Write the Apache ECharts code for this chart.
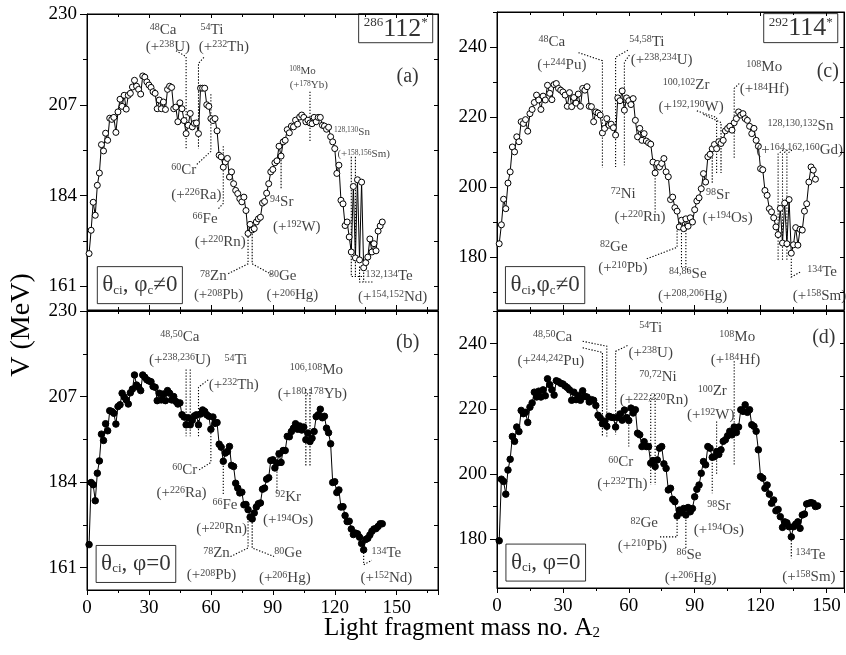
<!DOCTYPE html>
<html><head><meta charset="utf-8">
<script src="https://cdn.jsdelivr.net/npm/echarts@6/dist/echarts.min.js"></script>
<style>html,body{margin:0;padding:0;background:#fff}#chart{width:846px;height:655px}</style>
</head><body><div id="chart"></div>
<script>
const FONT = 'Liberation Serif';

// ---- data: V (MeV) for light fragment mass A2 = 1, 2, 3, ...
const V_112_CI_PHIC = [169.3,175.2,182.3,179,186.6,189.7,196.9,195.3,199.8,198,203.6,203.3,203.8,200,205.2,208.4,206.6,209.4,205.9,209.4,209.9,211.5,213.2,211.7,210.9,209.7,214.3,214,212.8,212,211.4,210.3,209.9,206,208.2,206,207.7,205.8,210.9,211.7,211.4,206,206.4,202.7,207.5,206,203,199.7,201.8,204.8,201.4,202.3,202.4,199.7,211.2,211.2,211.2,207,206.6,203.5,203,203.5,200.4,194.2,193.8,191.2,192.5,193.4,188.7,190,187,185.3,184.5,183.2,182.4,183.6,180.2,174.4,176.7,175.3,175.6,177.3,178.1,178.5,182.1,182.5,184.6,187,190,190.6,192.3,192.8,196.5,194,197.6,198,200.7,199.9,201.6,201.4,203.1,202.1,203.9,204.4,203.8,202.7,203.1,202.4,202.2,203.8,202.7,203.8,203.8,201.8,201.6,200.8,201.3,198.9,197.6,195.9,189.6,191.7,182.8,181.9,176.4,177.3,173.5,169.7,186.3,168.2,188,167.7,187.4,165.7,167,168.4,173,169.7,171.8,170,175,176.3,177.3];
const V_112_CI_PHI0 = [167.2,183.9,183.3,179,186.4,189.7,196.9,195.2,199.7,197.8,203.2,203,202.5,199.6,204.3,204.8,207.9,206.9,206.1,205,208,209,212.8,210.1,209.5,208.6,212.8,212.2,211.5,211.2,211,209.7,209.5,205.9,207.9,206.1,207.7,205.9,208.6,207.9,206.1,207,205.7,205,205.3,202.1,201.5,199.4,201.3,199.4,200.6,201.8,202.1,199.4,202.3,203.4,203,202.1,201.7,198.2,201.5,199.8,200,194.2,193.4,189.6,191.8,192.2,193.6,188.5,188.2,183.7,182.4,181.1,181.3,177.9,178,176.6,174.6,174.1,175.7,177.3,178.2,178.4,182.1,182.4,184.8,185.2,189.8,190,187.8,189.1,191.6,189.3,192.5,192.5,196.3,196.2,197.6,198.5,199.7,198.2,199.1,198,198.8,195.4,197.2,194.9,195.8,197.6,201.6,202.1,203.6,201.3,201.7,198.5,197.3,194.3,183.9,184.1,181.2,181.9,177.3,177.4,175,173.4,173.5,171.4,169.9,170.3,170.1,169.2,167.5,165.8,168.6,168.9,169.8,170.8,171.4,171.5,172.1,172.8,172.8];
const V_114_CI_PHIC = [183.9,189.3,196.6,193.9,201.2,204.4,211.5,210.1,214.4,213,218.7,218.2,219.3,216,221,222.2,224.2,226.3,224.9,222.2,226,224.9,229.1,226.8,225,229.3,229.6,228.2,227.7,227.2,226.3,223.1,227,223,225.6,224,226.6,223.1,228.2,227.7,228.7,223.1,223,218.7,221.5,221.2,220.6,215.5,216.8,219.6,217.7,218,217,214.9,225.5,224.7,227.5,222,225.5,224.7,223.6,225.3,219.1,214.4,216.8,213.4,215.3,213.2,212.7,212.3,207.2,204.1,206.8,205.8,206.8,208.2,204.4,203,196.5,197.2,194.2,193.2,188.7,190.6,188.2,191,188.9,191.3,190.1,193.6,196.1,197,199.6,203.9,201.5,208.7,209.4,211,212.2,211,213,212.5,213.4,216.1,216.8,217.4,216.3,218.4,219.6,221.5,220.6,221,219.6,219.1,217.4,215.3,216.8,213.4,211.7,205.3,205,199.1,197.7,193.9,193,191.3,188.7,186.5,194,184.1,195.5,183.9,196.5,181.2,183.6,188.5,183.5,188,187.8,193.2,195.3,201.5,205.8,204.9,202.3];
const V_114_CI_PHI0 = [179.5,198.4,197.7,193.8,201.2,204.5,211.5,210,214.4,213,219.5,218.5,218.9,215.8,220.5,221.8,225.1,223.6,225.4,223.6,225.8,224,229.2,227.4,225.8,224.2,228.6,228.3,227.8,227.6,227,226.5,225.8,222.6,225.1,222.8,224.1,222.6,225.5,223.8,223.6,222.1,222.8,222.6,221,218,217.2,215.4,216.2,214.6,217.7,217.4,217.3,214.4,217.3,218.4,216.5,219.6,217.3,216.4,220.2,218.7,219.7,212.5,212,208.4,209.9,208.4,208.4,203.3,204.1,202.3,204.3,207.9,208.4,203.1,201.7,195.1,195.6,192.2,191.5,187.1,188.9,188.1,189.4,187.4,189.7,188.4,189.4,193,195.3,196.6,200.2,203.8,202.8,208.4,207.9,205.1,205.3,206.9,206,207.4,210,210.5,211.7,213.1,212,214.4,212.7,214.4,219.7,219.2,221.2,218.9,219.7,215.1,214.6,213.1,207.4,199.2,198.7,195.6,196.6,193.8,191,192,188.7,189.1,186.9,183.6,185.3,185,183.8,180.7,183.8,184.6,185.3,183.3,187.4,187.7,190.8,191,191.2,191,190,190.2];

// ---- tick labels
const X_TICKS = [0, 30, 60, 90, 120, 150];
const Y_TICKS_112 = [161, 184, 207, 230];
const Y_MINOR_112 = [172.5, 195.5, 218.5];
const Y_TICKS_114 = [180, 200, 220, 240];
const Y_MINOR_114 = [170, 190, 210, 230, 250];

// ---- annotation texts: [A2, V, text]
const ANN_A = [
  [36.8,225.9,'{s|48}{t|Ca}'],[39.2,221.6,'{t|(+}{s|238}{t|U)}'],
  [60.5,225.9,'{s|54}{t|Ti}'],[66.3,221.6,'{t|(+}{s|232}{t|Th)}'],
  [104.4,215.6,'{ss|108}{ts|Mo}'],[107.4,212,'{ts|(+}{ss|178}{ts|Yb)}'],
  [128.3,200.1,'{ss|128,130}{ts|Sn}'],[134,194.5,'{ts|(+}{ss|158,156}{ts|Sm)}'],
  [146.3,163.5,'{s|132,134}{t|Te}'],[148,158.4,'{t|(+}{s|154,152}{t|Nd)}'],
  [46.9,190.4,'{s|60}{t|Cr}'],[53,184.1,'{t|(+}{s|226}{t|Ra)}'],
  [57.2,178.1,'{s|66}{t|Fe}'],[64.5,172.2,'{t|(+}{s|220}{t|Rn)}'],
  [61.2,163.5,'{s|78}{t|Zn}'],[63.7,158.7,'{t|(+}{s|208}{t|Pb)}'],
  [94.8,163.5,'{s|80}{t|Ge}'],[99.5,158.7,'{t|(+}{s|206}{t|Hg)}'],
  [94.3,182.4,'{s|94}{t|Sr}'],[101.6,176,'{t|(+}{s|192}{t|W)}']
];
const ANN_B = [
  [45,223.1,'{s|48,50}{t|Ca}'],[45,216.8,'{t|(+}{s|238,236}{t|U)}'],
  [72.1,216.7,'{s|54}{t|Ti}'],[71.1,210.1,'{t|(+}{s|232}{t|Th)}'],
  [111.1,214.2,'{s|106,108}{t|Mo}'],[109.2,207.7,'{t|(+}{s|180,178}{t|Yb)}'],
  [47.4,187.3,'{s|60}{t|Cr}'],[45.8,181,'{t|(+}{s|226}{t|Ra)}'],
  [66.8,177.9,'{s|66}{t|Fe}'],[65.2,171.4,'{t|(+}{s|220}{t|Rn)}'],
  [62.7,164.8,'{s|78}{t|Zn}'],[60.3,158.9,'{t|(+}{s|208}{t|Pb)}'],
  [97.4,164.8,'{s|80}{t|Ge}'],[95.8,158.2,'{t|(+}{s|206}{t|Hg)}'],
  [97.4,180,'{s|92}{t|Kr}'],[97.4,173.7,'{t|(+}{s|194}{t|Os)}'],
  [145,164.8,'{s|134}{t|Te}'],[145,158.2,'{t|(+}{s|152}{t|Nd)}']
];
const ANN_C = [
  [25,241.5,'{s|48}{t|Ca}'],[29.5,235,'{t|(+}{s|244}{t|Pu)}'],
  [68.2,241.5,'{s|54,58}{t|Ti}'],[75,236.3,'{t|(+}{s|238,234}{t|U)}'],
  [86.1,229.1,'{s|100,102}{t|Zr}'],[88.4,222.8,'{t|(+}{s|192,190}{t|W)}'],
  [100.5,197.7,'{s|98}{t|Sr}'],[105,191.3,'{t|(+}{s|194}{t|Os)}'],
  [121.7,234.4,'{s|108}{t|Mo}'],[121.7,227.9,'{t|(+}{s|184}{t|Hf)}'],
  [138.2,217.4,'{s|128,130,132}{t|Sn}'],[137.8,210.6,'{t|(+}{s|164,162,160}{t|Gd)}'],
  [86.9,175.3,'{s|84,86}{t|Se}'],[89.1,169.1,'{t|(+}{s|208,206}{t|Hg)}'],
  [53.2,183,'{s|82}{t|Ge}'],[57.3,177,'{t|(+}{s|210}{t|Pb)}'],
  [57.5,198.2,'{s|72}{t|Ni}'],[65.1,191.5,'{t|(+}{s|220}{t|Rn)}'],
  [148,175.8,'{s|134}{t|Te}'],[146.8,168.9,'{t|(+}{s|158}{t|Sm)}']
];
const ANN_D = [
  [25.3,242.1,'{s|48,50}{t|Ca}'],[24.5,234.6,'{t|(+}{s|244,242}{t|Pu)}'],
  [70,244.8,'{s|54}{t|Ti}'],[70,237.1,'{t|(+}{s|238}{t|U)}'],
  [73.3,229.8,'{s|70,72}{t|Ni}'],[71.5,222.8,'{t|(+}{s|222,220}{t|Rn)}'],
  [56.3,203.5,'{s|60}{t|Cr}'],[57.1,196.9,'{t|(+}{s|232}{t|Th)}'],
  [109.4,242.1,'{s|108}{t|Mo}'],[108.6,234.9,'{t|(+}{s|184}{t|Hf)}'],
  [98,225.3,'{s|100}{t|Zr}'],[97.3,218.2,'{t|(+}{s|192}{t|W)}'],
  [101,190,'{s|98}{t|Sr}'],[101,182.8,'{t|(+}{s|194}{t|Os)}'],
  [67,184.8,'{s|82}{t|Ge}'],[66.2,177.8,'{t|(+}{s|210}{t|Pb)}'],
  [87.4,175.1,'{s|86}{t|Se}'],[88.2,168.2,'{t|(+}{s|206}{t|Hg)}'],
  [142.7,175.1,'{s|134}{t|Te}'],[142,168.4,'{t|(+}{s|158}{t|Sm)}']
];
// boxed / panel tags: [A2, V, text, kind]
const TAG_A = [[149.5,226.4,'{bs|286}{b|112}{bs|*}','box'],[25.6,161.3,'{g|θ}{gs|ci}{g|, φ}{gs|c}{g|≠0}','box2'],[155.3,214,'{p|(a)}','plain']];
const TAG_B = [[23.7,162,'{g|θ}{gs|ci}{g|, φ=0}','box2'],[155.3,221.4,'{p|(b)}','plain']];
const TAG_C = [[138.3,245.4,'{bs|292}{b|114}{bs|*}','box'],[21.9,172.1,'{g|θ}{gs|ci}{g|,φ}{gs|c}{g|≠0}','box2'],[150.6,232.9,'{p|(c)}','plain']];
const TAG_D = [[22.2,172.8,'{g|θ}{gs|ci}{g|, φ=0}','box2'],[148.8,241.8,'{p|(d)}','plain']];

// ---- dotted leader lines (data coordinates)
const LEAD_A = [
  [[43.1,220.7],[48,219.2],[48,195.9]],[[56.6,219],[54,217.5],[54,195.9]],
  [[53.2,191.9],[60,195.2],[60,209.9]],[[63.7,180.7],[66,182],[66,196.9]],
  [[68.4,164.2],[78,166.7],[78,174.3]],[[80,174.3],[80,166.7],[89.4,164]],
  [[108,210.3],[108,197.6]],[[94,193.8],[94,185.8]],
  [[128,193.8],[128,163.5],[134,163.5]],[[130,193.8],[130,163.5]],
  [[132,166],[132,162.1],[139,162.1]],[[134,166],[134,162.1]]
];
const LEAD_B = [
  [[48,214.3],[48,196.3]],[[50,214.3],[50,196.3]],
  [[58.7,211.5],[54,209.5],[54,196.3]],
  [[106,209],[106,188.4]],[[108,209],[108,188.4]],
  [[54.3,187.3],[60,189.3],[60,198.2]],[[66,190],[66,180.6]],
  [[69.5,164],[78,166.3],[78,174.8]],[[80,174.8],[80,166.3],[90.6,164]],
  [[92,192.5],[92,181]],[[134,165],[134,161.8],[138,163]]
];
const LEAD_C = [
  [[37.1,238.4],[48,236.1],[48,205.6]],
  [[59.6,239.1],[54,237.1],[54,205.8]],[[60.3,237.7],[58,235.7],[58,206.3]],
  [[91,221.8],[100,219.9],[100,204.1]],[[94,220.8],[102,218.5],[102,204.1]],
  [[98,209.4],[98,201.2]],[[110.3,229.6],[108,228.2],[108,208.2]],
  [[128,179.3],[128,209.5],[131,211]],[[130,179.3],[130,209.5],[133,211]],[[132,179.3],[132,209.5],[135,211]],
  [[84,188.7],[84,177.2]],[[86,188.7],[86,177.2],[87.5,176]],
  [[68.2,179.6],[82,182.9],[82,187.7]],[[72,206],[72,192.5]],
  [[134,179.6],[134,174.4],[138,175.8]]
];
const LEAD_D = [
  [[39,240.7],[50,239.2],[50,211.5]],[[39,238.7],[48,237.3],[48,211.5]],
  [[59.4,239.4],[54,237.6],[54,212]],
  [[70,224.3],[70,196.6]],[[72,224.3],[72,196.6]],
  [[60,216.1],[60,208.4]],[[108,234.6],[108,202.8]],
  [[100,216.1],[100,199.7]],[[98,205.3],[98,194.1]],
  [[74.2,180.7],[82,180.7],[82,187.1]],[[86,186.9],[86,177.1]],
  [[134,179.7],[134,174.1]]
];

// ---- layout (styles / positions)
const PANELS = [
  {grid:{left:87,top:14,width:351,height:296}, xMax:170, yMin:155, yMax:230, major:Y_TICKS_112, minor:Y_MINOR_112, vals:V_112_CI_PHIC, filled:false, xLabels:false, ann:ANN_A, tags:TAG_A, lead:LEAD_A},
  {grid:{left:87,top:311,width:351,height:279}, xMax:170, yMin:155, yMax:230, major:Y_TICKS_112, minor:Y_MINOR_112, vals:V_112_CI_PHI0, filled:true, xLabels:true, ann:ANN_B, tags:TAG_B, lead:LEAD_B},
  {grid:{left:497,top:12,width:347,height:298}, xMax:158, yMin:165, yMax:250, major:Y_TICKS_114, minor:Y_MINOR_114, vals:V_114_CI_PHIC, filled:false, xLabels:false, ann:ANN_C, tags:TAG_C, lead:LEAD_C},
  {grid:{left:497,top:311,width:347,height:277}, xMax:158, yMin:165, yMax:250, major:Y_TICKS_114, minor:Y_MINOR_114, vals:V_114_CI_PHI0, filled:true, xLabels:true, ann:ANN_D, tags:TAG_D, lead:LEAD_D}
];

const TXT = '#111';
const RICH = {
  t:{fontSize:15, fontFamily:FONT, color:TXT},
  s:{fontSize:10, fontFamily:FONT, color:TXT, verticalAlign:'top'},
  ts:{fontSize:11, fontFamily:FONT, color:TXT},
  ss:{fontSize:7.5, fontFamily:FONT, color:TXT, verticalAlign:'top'},
  b:{fontSize:26, fontFamily:FONT, color:'#000'},
  bs:{fontSize:13, fontFamily:FONT, color:'#000', verticalAlign:'top'},
  g:{fontSize:23, fontFamily:FONT, color:'#000'},
  gs:{fontSize:13, fontFamily:FONT, color:'#000', verticalAlign:'bottom'},
  p:{fontSize:20, fontFamily:FONT, color:'#000'}
};
const BLACK = {color:'#000', width:1};

const grid = [], xAxis = [], yAxis = [], series = [];
PANELS.forEach((p, g) => {
  grid.push(Object.assign({show:true, borderColor:'#000', borderWidth:1, containLabel:false}, p.grid));
  xAxis.push({gridIndex:g, type:'value', min:0, max:p.xMax, interval:30, position:'bottom',
    axisLine:{show:true, onZero:false, lineStyle:BLACK},
    axisTick:{show:true, inside:!p.xLabels, length:5, lineStyle:BLACK},
    minorTick:{show:true, splitNumber:2, length:3, lineStyle:BLACK},
    axisLabel:{show:p.xLabels, customValues:X_TICKS, fontSize:19, fontFamily:FONT, color:'#000', margin:9},
    splitLine:{show:false}, minorSplitLine:{show:false}});
  xAxis.push({gridIndex:g, type:'value', min:0, max:p.xMax, interval:30, position:'top',
    axisLine:{show:true, onZero:false, lineStyle:BLACK},
    axisTick:{show:true, inside:true, length:4, lineStyle:BLACK},
    minorTick:{show:true, splitNumber:2, length:3, lineStyle:BLACK},
    axisLabel:{show:false}, splitLine:{show:false}});
  yAxis.push({gridIndex:g, type:'value', min:p.yMin, max:p.yMax, position:'left',
    axisLine:{show:true, onZero:false, lineStyle:BLACK},
    axisTick:{show:true, inside:false, length:7, customValues:p.major, lineStyle:BLACK},
    axisLabel:{show:true, customValues:p.major, fontSize:19, fontFamily:FONT, color:'#000', margin:10},
    splitLine:{show:false}});
  yAxis.push({gridIndex:g, type:'value', min:p.yMin, max:p.yMax, position:'left',
    axisLine:{show:false},
    axisTick:{show:true, inside:false, length:4, customValues:p.minor, lineStyle:BLACK},
    axisLabel:{show:false}, splitLine:{show:false}});
  yAxis.push({gridIndex:g, type:'value', min:p.yMin, max:p.yMax, position:'right',
    axisLine:{show:true, onZero:false, lineStyle:BLACK},
    axisTick:{show:true, inside:true, length:4, customValues:p.major.concat(p.minor), lineStyle:BLACK},
    axisLabel:{show:false}, splitLine:{show:false}});

  const xi = 2*g, yi = 3*g;
  series.push({type:'lines', coordinateSystem:'cartesian2d', xAxisIndex:xi, yAxisIndex:yi, polyline:true,
    data:p.lead.map(c => ({coords:c})), lineStyle:{color:'#000', width:1.1, type:[1.3,1.7], opacity:1},
    silent:true, z:2, animation:false});
  series.push({type:'line', xAxisIndex:xi, yAxisIndex:yi,
    data:p.vals.map((v, i) => [i + 1, v]),
    symbol:'circle', symbolSize:p.filled ? 6.5 : 6, showSymbol:true,
    lineStyle:{color:'#000', width:1},
    itemStyle:{color:p.filled ? '#000' : '#fff', borderColor:'#000', borderWidth:1},
    silent:true, z:3, animation:false});
  const labelItems = p.ann.map(a => ({value:[a[0], a[1]], label:{formatter:a[2]}}))
    .concat(p.tags.map(a => {
      const lab = {formatter:a[2]};
      if (a[3] === 'box') Object.assign(lab, {borderColor:'#000', borderWidth:1, padding:[2,5,1,5]});
      if (a[3] === 'box2') Object.assign(lab, {borderColor:'#000', borderWidth:1, padding:[7,5,7,5]});
      return {value:[a[0], a[1]], label:lab};
    }));
  series.push({type:'scatter', xAxisIndex:xi, yAxisIndex:yi, data:labelItems,
    symbolSize:1, itemStyle:{color:'rgba(0,0,0,0)'},
    label:{show:true, position:'inside', align:'center', verticalAlign:'middle', color:TXT, fontFamily:FONT, rich:RICH},
    silent:true, z:5, animation:false});
});

const chart = echarts.init(document.getElementById('chart'), null, {renderer:'canvas'});
chart.setOption({
  animation:false,
  backgroundColor:'#fff',
  grid, xAxis, yAxis, series,
  graphic:[
    {type:'text', x:22, y:325, rotation:Math.PI/2,
      style:{text:'V (MeV)', fontSize:28, fontFamily:FONT, fill:'#000', align:'center', verticalAlign:'middle', textAlign:'center', textVerticalAlign:'middle'}},
    {type:'text', x:462, y:628,
      style:{text:'{t|Light fragment mass no. A}{u|2}', align:'center', verticalAlign:'middle', textAlign:'center', textVerticalAlign:'middle',
        rich:{t:{fontSize:25, fontFamily:FONT, fill:'#000', color:'#000'}, u:{fontSize:15, fontFamily:FONT, fill:'#000', color:'#000', verticalAlign:'bottom'}}}}
  ]
});
</script></body></html>
